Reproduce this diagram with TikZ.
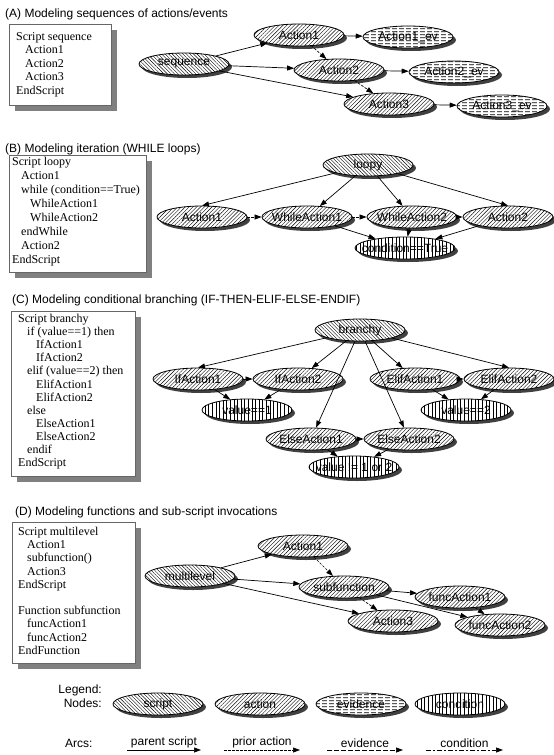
\documentclass[tikz,border=0pt]{standalone}
\usepackage{fontspec}
\setmainfont{Liberation Serif}
\setsansfont{Liberation Sans}
\usetikzlibrary{shapes.geometric,shadows,patterns,patterns.meta,arrows.meta}

% dashed horizontal hatching for evidence nodes
\pgfdeclarepatternformonly{hdashes}{\pgfqpoint{0pt}{0pt}}{\pgfqpoint{7pt}{3.2pt}}{\pgfqpoint{7pt}{3.2pt}}{%
	\pgfsetlinewidth{1pt}%
	\pgfpathmoveto{\pgfqpoint{0pt}{1.6pt}}%
	\pgfpathlineto{\pgfqpoint{5.5pt}{1.6pt}}%
	\pgfusepath{stroke}%
}

\newcommand{\tb}{\hspace*{9pt}}

\tikzset{
	gnode/.style = {ellipse, draw, line width = 0.8pt, inner xsep = -12pt, inner ysep = 0pt,
		minimum width = 90pt, minimum height = 22pt, font = \sffamily\fontsize{12}{12}\selectfont,
		drop shadow = {shadow xshift = 3pt, shadow yshift = -3pt, fill = black!75, opacity = 1},
		preaction = {fill = white}},
	scriptnode/.style = {gnode, pattern = {Lines[angle = -45, distance = 2.5pt, line width = 0.4pt]}},
	actnode/.style = {gnode, pattern = {Lines[angle = 45, distance = 2.7pt, line width = 0.4pt]}},
	evnode/.style = {gnode, pattern = hdashes},
	condnode/.style = {gnode, pattern = {Lines[angle = 90, distance = 3.6pt, line width = 0.9pt]}},
	parentarc/.style = {-{Triangle[length = 7pt, width = 5pt]}, line width = 0.7pt},
	priorarc/.style = {parentarc, dash pattern = on 2.5pt off 1.5pt},
	evarc/.style = {parentarc, dash pattern = on 5pt off 2pt},
	condarc/.style = {parentarc, dash pattern = on 5pt off 2pt on 2pt off 2pt},
	title/.style = {anchor = west, inner sep = 0pt, font = \sffamily\fontsize{12}{14}\selectfont},
	code/.style = {anchor = north west, inner sep = 0pt, align = left, font = \rmfamily\fontsize{12}{13.6}\selectfont},
	codebox/.style = {draw = black!60, line width = 0.6pt, fill = white},
	boxshadow/.style = {fill = black!50},
	lgtext/.style = {inner sep = 0pt, font = \sffamily\fontsize{12}{12}\selectfont}
}

\begin{document}
\begin{tikzpicture}[x = 1pt, y = -1pt]
	\useasboundingbox (0,0) rectangle (554,755);

	% (A) sequences
	\node[title] (titleA) at (5,14) {(A) Modeling sequences of actions/events};
	\fill[boxshadow] (15,30) rectangle (117,111);
	\draw[codebox] (9,24) rectangle (111,105);
	\node[code] (codeA) at (16,32) {Script sequence\\ \tb Action1\\ \tb Action2\\ \tb Action3\\ EndScript};
	\node[scriptnode] (seq) at (184,64) {sequence};
	\node[actnode] (seqA1) at (299,35) {Action1};
	\node[actnode] (seqA2) at (339,70) {Action2};
	\node[actnode] (seqA3) at (389,104) {Action3};
	\node[evnode] (seqE1) at (408,37) {Action1\_ev};
	\node[evnode] (seqE2) at (454,72) {Action2\_ev};
	\node[evnode] (seqE3) at (502,106) {Action3\_ev};
	\draw[parentarc] (seq) -- (seqA1);
	\draw[parentarc] (seq) -- (seqA2);
	\draw[parentarc] (seq) -- (seqA3);
	\draw[priorarc] (seqA1) -- (seqA2);
	\draw[priorarc] (seqA2) -- (seqA3);
	\draw[parentarc] (seqA1) -- (seqE1);
	\draw[parentarc] (seqA2) -- (seqE2);
	\draw[parentarc] (seqA3) -- (seqE3);

	% (B) while loops
	\node[title] (titleB) at (5,149) {(B) Modeling iteration (WHILE loops)};
	\fill[boxshadow] (15,161) rectangle (152,278);
	\draw[codebox] (9,155) rectangle (146,272);
	\node[code, font = \rmfamily\fontsize{12}{14}\selectfont] (codeB) at (12,157) {Script loopy\\ \tb Action1\\ \tb while (condition==True)\\ \tb\tb WhileAction1\\ \tb\tb WhileAction2\\ \tb endWhile\\ \tb Action2\\ EndScript};
	\node[scriptnode] (loopy) at (368,165) {loopy};
	\node[actnode] (loopA1) at (202,217) {Action1};
	\node[actnode] (loopW1) at (307,217) {WhileAction1};
	\node[actnode] (loopW2) at (412,217) {WhileAction2};
	\node[actnode] (loopA2) at (508,217) {Action2};
	\node[condnode, minimum width = 100pt] (loopC) at (405,248) {condition==True};
	\draw[parentarc] (loopy) -- (loopA1.north);
	\draw[parentarc] (loopy) -- (loopW1);
	\draw[parentarc] (loopy) -- (loopW2);
	\draw[parentarc] (loopy) -- (loopA2.north);
	\draw[priorarc] (loopA1) -- (loopW1);
	\draw[priorarc] (loopW1) -- (loopW2);
	\draw[priorarc] (loopW2) -- (loopA2);
	\draw[parentarc] (loopW1) -- (loopC);
	\draw[parentarc] (loopW2) -- (loopC);
	\draw[parentarc] (loopA2) -- (loopC);

	% (C) branching
	\node[title] (titleC) at (12,300) {(C) Modeling conditional branching (IF-THEN-ELIF-ELSE-ENDIF)};
	\fill[boxshadow] (17,317) rectangle (141,482);
	\draw[codebox] (11,311) rectangle (135,476);
	\node[code, font = \rmfamily\fontsize{12}{13.1}\selectfont] (codeC) at (18,314) {Script branchy\\ \tb if (value==1) then\\ \tb\tb IfAction1\\ \tb\tb IfAction2\\ \tb elif (value==2) then\\ \tb\tb ElifAction1\\ \tb\tb ElifAction2\\ \tb else\\ \tb\tb ElseAction1\\ \tb\tb ElseAction2\\ \tb endif\\ EndScript};
	\node[scriptnode] (branchy) at (360,330) {branchy};
	\node[actnode] (ifA1) at (198,379) {IfAction1};
	\node[actnode] (ifA2) at (298,379) {IfAction2};
	\node[actnode] (elifA1) at (415,379) {ElifAction1};
	\node[actnode] (elifA2) at (509,379) {ElifAction2};
	\node[condnode] (ifC) at (247,410) {value==1};
	\node[condnode] (elifC) at (466,410) {value==2};
	\node[actnode] (elseA1) at (311,439) {ElseAction1};
	\node[actnode] (elseA2) at (409,439) {ElseAction2};
	\node[condnode] (elseC) at (354,467) {value != 1 or 2};
	\draw[parentarc] (branchy) -- (ifA1.north);
	\draw[parentarc] (branchy) -- (ifA2);
	\draw[parentarc] (branchy) -- (elifA1);
	\draw[parentarc] (branchy) -- (elifA2.north);
	\draw[parentarc] (branchy) -- (elseA1);
	\draw[parentarc] (branchy) -- (elseA2);
	\draw[priorarc] (ifA1) -- (ifA2);
	\draw[priorarc] (elifA1) -- (elifA2);
	\draw[priorarc] (elseA1) -- (elseA2);
	\draw[parentarc] (ifA1) -- (ifC);
	\draw[parentarc] (ifA2) -- (ifC);
	\draw[parentarc] (elifA1) -- (elifC);
	\draw[parentarc] (elifA2) -- (elifC);
	\draw[parentarc] (elseA1) -- (elseC);
	\draw[parentarc] (elseA2) -- (elseC);

	% (D) functions
	\node[title] (titleD) at (15,512) {(D) Modeling functions and sub-script invocations};
	\fill[boxshadow] (18,528) rectangle (141,669);
	\draw[codebox] (12,522) rectangle (135,663);
	\node[code, font = \rmfamily\fontsize{12}{13.2}\selectfont] (codeD) at (18,527) {Script multilevel\\ \tb Action1\\ \tb subfunction()\\ \tb Action3\\ EndScript\\[13.2pt] Function subfunction\\ \tb funcAction1\\ \tb funcAction2\\ EndFunction};
	\node[scriptnode] (multi) at (190,576) {multilevel};
	\node[actnode] (multiA1) at (303,546) {Action1};
	\node[actnode] (subfn) at (344,587) {subfunction};
	\node[actnode] (multiA3) at (393,621) {Action3};
	\node[actnode] (funcA1) at (460,597) {funcAction1};
	\node[actnode] (funcA2) at (500,625) {funcAction2};
	\draw[parentarc] (multi) -- (multiA1);
	\draw[parentarc] (multi) -- (subfn);
	\draw[parentarc] (multi) -- (multiA3);
	\draw[priorarc] (multiA1) -- (subfn);
	\draw[priorarc] (subfn) -- (multiA3);
	\draw[parentarc] (subfn) -- (funcA1);
	\draw[parentarc] (subfn) -- (funcA2);
	\draw[priorarc] (funcA1) -- (funcA2);

	% legend
	\node[lgtext, anchor = east] (lgLegend) at (102,690) {Legend:};
	\node[lgtext, anchor = east] (lgNodes) at (102,703) {Nodes:};
	\node[scriptnode] (lgScript) at (158,704) {script};
	\node[actnode] (lgAction) at (260,704) {action};
	\node[evnode] (lgEvidence) at (361,704) {evidence};
	\node[condnode] (lgCond) at (460,704) {condition};
	\node[lgtext, anchor = west] (lgArcs) at (65,743) {Arcs:};
	\coordinate (p1) at (127,750); \coordinate (p2) at (201,750);
	\coordinate (q1) at (224,750); \coordinate (q2) at (300,750);
	\coordinate (e1) at (327,750); \coordinate (e2) at (403,750);
	\coordinate (c1) at (426,750); \coordinate (c2) at (503,750);
	\draw[parentarc] (p1) -- node[lgtext, above = 2pt] {parent script} (p2);
	\draw[priorarc] (q1) -- node[lgtext, above = 2pt] {prior action} (q2);
	\draw[evarc] (e1) -- node[lgtext, above = 2pt] {evidence} (e2);
	\draw[condarc] (c1) -- node[lgtext, above = 2pt] {condition} (c2);
\end{tikzpicture}
\end{document}
